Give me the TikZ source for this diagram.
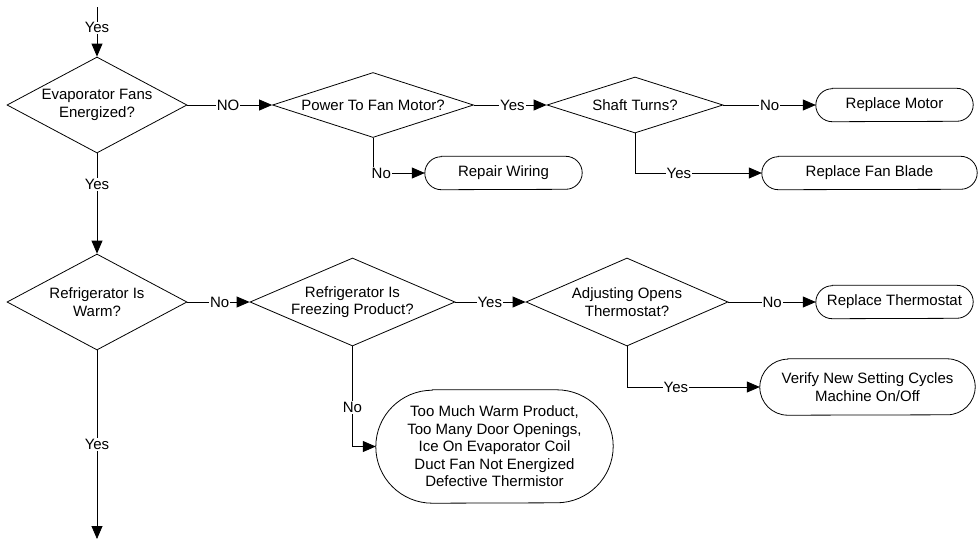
\documentclass[tikz,border=0pt]{standalone}
\usepackage{fontspec}
\setmainfont{Liberation Sans}
\usetikzlibrary{shapes.geometric,arrows.meta}
\newcommand\tdraw[3]{%
  \draw[line width=0.8pt] ([xshift=#2pt]#1.north west) -- ([xshift=-#2pt]#1.north east)
    arc[start angle=90,end angle=-90,x radius=#2pt,y radius=#3pt]
    -- ([xshift=#2pt]#1.south west)
    arc[start angle=270,end angle=90,x radius=#2pt,y radius=#3pt] -- cycle;}
\begin{document}
\begin{tikzpicture}[x=1pt,y=-1pt,
  every node/.style={font=\fontsize{15}{17.5}\selectfont},
  dec/.style={diamond, draw, line width=0.8pt, inner sep=0pt},
  term/.style={rectangle, inner sep=0pt, align=center},
  conn/.style={line width=0.8pt, -{Triangle[length=13pt,width=11pt]}},
  lbl/.style={fill=white, inner sep=1pt}
]
\useasboundingbox (0,0) rectangle (978,539);

% decisions
\node[dec, minimum width=180pt, minimum height=96pt,
  label={[align=center]center:Evaporator Fans\\Energized?}] (d1) at (97,105) {};
\node[dec, minimum width=201pt, minimum height=65pt,
  label={[align=center]center:Power To Fan Motor?}] (d2) at (373,105) {};
\node[dec, minimum width=176pt, minimum height=56pt,
  label={[align=center]center:Shaft Turns?}] (d3) at (635,105) {};
\node[dec, minimum width=180pt, minimum height=96pt,
  label={[align=center]center:Refrigerator Is\\Warm?}] (d4) at (97,302) {};
\node[dec, minimum width=205pt, minimum height=88pt,
  label={[align=center]center:Refrigerator Is\\Freezing Product?}] (d5) at (352.5,302) {};
\node[dec, minimum width=202pt, minimum height=88pt,
  label={[align=center]center:Adjusting Opens\\Thermostat?}] (d6) at (627,302) {};

% terminals
\node[term, minimum width=157pt, minimum height=33pt] (t1) at (894.5,105) {Replace Motor};
\node[term, minimum width=157pt, minimum height=33pt] (t2) at (503.5,173) {Repair Wiring};
\node[term, minimum width=215pt, minimum height=33pt] (t3) at (869.5,173) {Replace Fan Blade};
\node[term, minimum width=157pt, minimum height=33pt] (t4) at (894.5,302) {Replace Thermostat};
\node[term, minimum width=215pt, minimum height=56pt] (t5) at (867.5,387) {Verify New Setting Cycles\\Machine On/Off};
\node[term, minimum width=237pt, minimum height=113pt] (t6) at (494.5,446.5) {Too Much Warm Product,\\Too Many Door Openings,\\Ice On Evaporator Coil\\Duct Fan Not Energized\\Defective Thermistor};
\tdraw{t1}{16.5}{16.5}
\tdraw{t2}{16.5}{16.5}
\tdraw{t3}{16.5}{16.5}
\tdraw{t4}{16.5}{16.5}
\tdraw{t5}{28}{28}
\tdraw{t6}{56.5}{56.5}

\coordinate (top) at (97,7);
\coordinate (bot) at (97,539);

% connectors
\draw[conn] (top) -- node[lbl, pos=0.42] {Yes} (d1.north);
\draw[conn] (d1.east) -- node[lbl, pos=0.48] {NO} (d2.west);
\draw[conn] (d2.east) -- node[lbl, pos=0.53] {Yes} (d3.west);
\draw[conn] (d3.east) -- node[lbl, pos=0.5] {No} (t1.west);
\draw[conn] (d3.south) |- node[lbl, pos=0.673] {Yes} (t3.west);
\draw[conn] (d2.south) |- node[lbl, pos=0.58] {No} (t2.west);
\draw[conn] (d1.south) -- node[lbl, pos=0.31] {Yes} (d4.north);
\draw[conn] (d4.east) -- node[lbl, pos=0.52] {No} (d5.west);
\draw[conn] (d4.south) -- node[lbl, pos=0.5] {Yes} (bot);
\draw[conn] (d5.east) -- node[lbl, pos=0.49] {Yes} (d6.west);
\draw[conn] (d6.east) -- node[lbl, pos=0.5] {No} (t4.west);
\draw[conn] (d6.south) |- node[lbl, pos=0.684] {Yes} (t5.west);
\draw[conn] (d5.south) |- node[lbl, pos=0.305] {No} (t6.west);
\end{tikzpicture}
\end{document}
